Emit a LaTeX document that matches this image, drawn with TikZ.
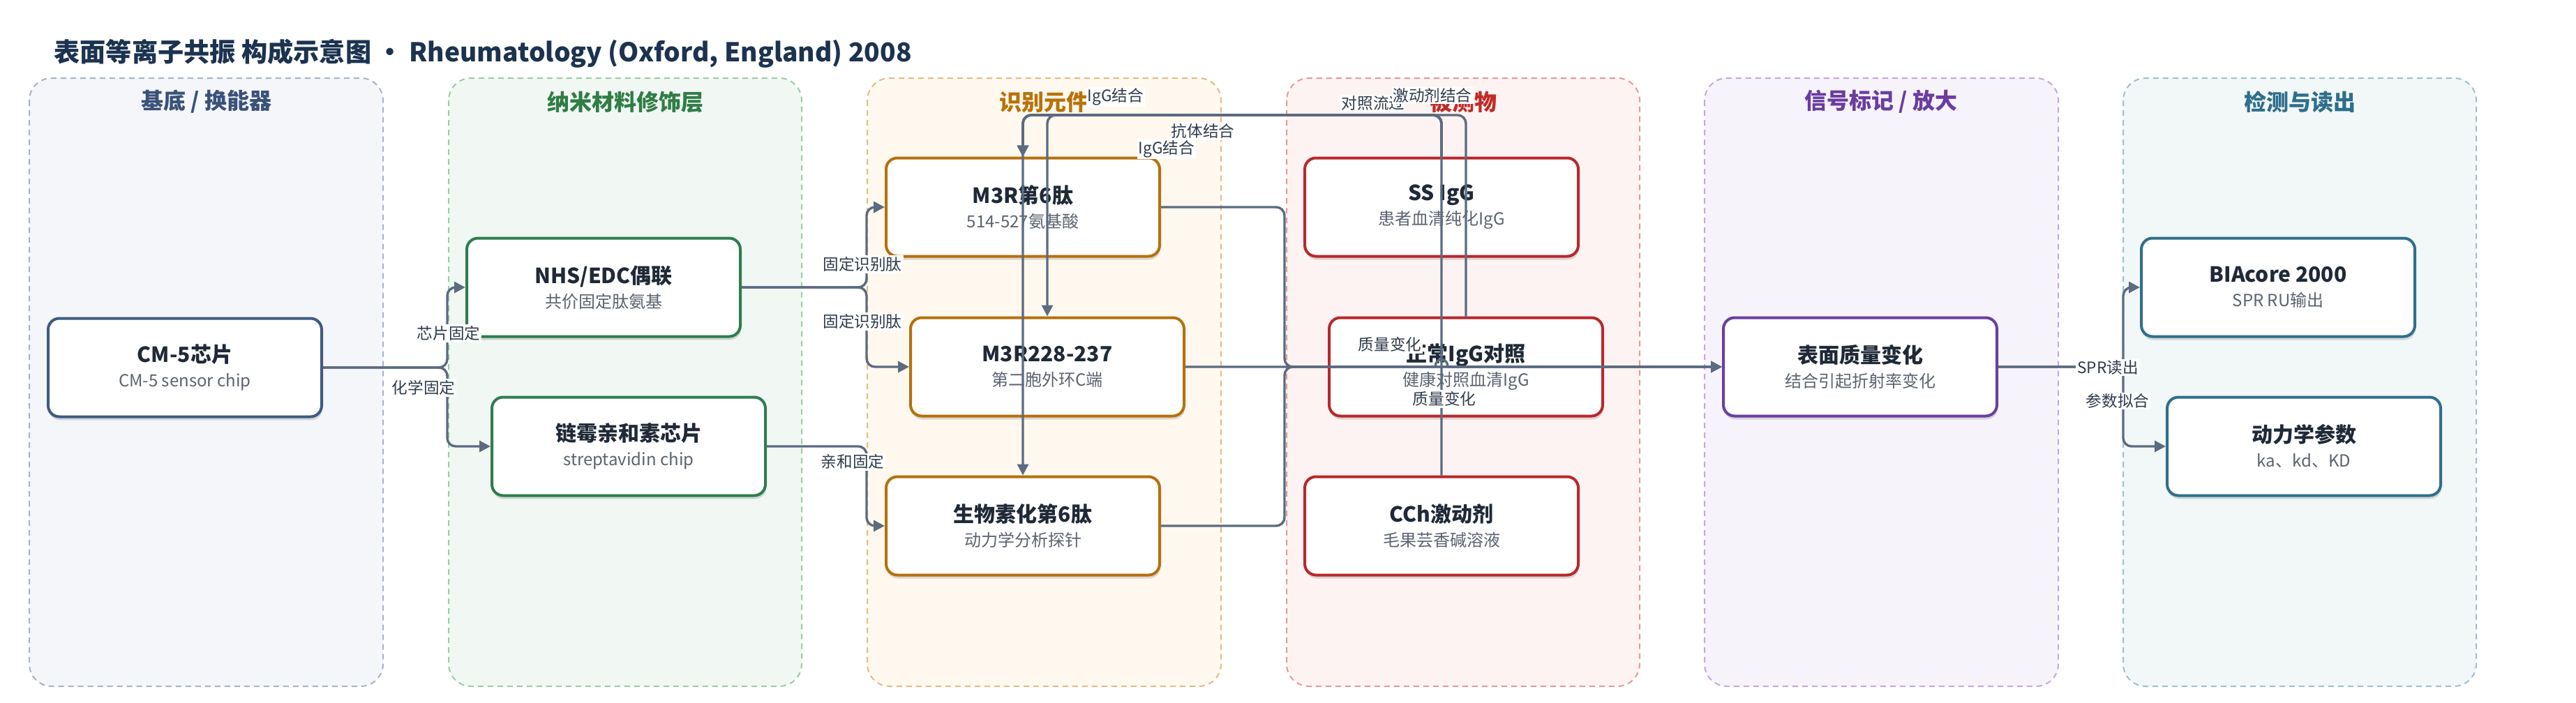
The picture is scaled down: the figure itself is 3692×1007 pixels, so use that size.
\documentclass[tikz,border=0pt]{standalone}
\usepackage{fontspec}
\setmainfont{Noto Sans CJK SC}
\usetikzlibrary{arrows.meta,shadows}
\definecolor{edgec}{HTML}{5B6B80}
\definecolor{titlec}{HTML}{1C3350}
\definecolor{nodet}{HTML}{1F2937}
\definecolor{subc}{HTML}{5B6370}
\definecolor{labc}{HTML}{2F3B4C}
\definecolor{laneAf}{HTML}{F4F6FA}\definecolor{laneAd}{HTML}{A7B3C7}\definecolor{laneAt}{HTML}{3A5279}\definecolor{boxA}{HTML}{3F5B83}
\definecolor{laneBf}{HTML}{F1F8F3}\definecolor{laneBd}{HTML}{9CCBA8}\definecolor{laneBt}{HTML}{2F7D45}\definecolor{boxB}{HTML}{2E7D4E}
\definecolor{laneCf}{HTML}{FFF8EE}\definecolor{laneCd}{HTML}{E4BC82}\definecolor{laneCt}{HTML}{B8720A}\definecolor{boxC}{HTML}{B5700E}
\definecolor{laneDf}{HTML}{FEF3F3}\definecolor{laneDd}{HTML}{E49A9A}\definecolor{laneDt}{HTML}{BF2B26}\definecolor{boxD}{HTML}{B8282A}
\definecolor{laneEf}{HTML}{F7F3FB}\definecolor{laneEd}{HTML}{C3A8DF}\definecolor{laneEt}{HTML}{6A3DA0}\definecolor{boxE}{HTML}{6A3FA0}
\definecolor{laneFf}{HTML}{F2F7F8}\definecolor{laneFd}{HTML}{9EC0CC}\definecolor{laneFt}{HTML}{2D6E8C}\definecolor{boxF}{HTML}{2F6F8C}
\newcommand{\bxt}[2]{{\fontsize{15}{17.5}\selectfont\bfseries\color{nodet}#1}\\{\color{subc}#2}}
\tikzset{
  lanebox/.style={rounded corners=16pt, dashed, dash pattern=on 4pt off 3pt, line width=1pt},
  lanetitle/.style={font=\fontsize{16}{19}\selectfont\bfseries},
  stepbox/.style={rectangle, rounded corners=8pt, line width=2pt, fill=white,
    minimum width=196pt, minimum height=70.5pt, align=center, inner sep=2pt,
    font=\fontsize{12}{17.5}\selectfont,
    drop shadow={shadow xshift=0.5pt, shadow yshift=-2.5pt, fill=black, opacity=0.13}},
  edge/.style={draw=edgec, line width=1.7pt, rounded corners=6pt, -{Triangle[length=8pt,width=8pt]}},
  elabel/.style={fill=white, inner sep=1pt, text=labc, font=\fontsize{11.3}{13}\selectfont}
}
\begin{document}
\begin{tikzpicture}[x=0.5pt,y=-0.5pt]
\useasboundingbox (0,0) rectangle (3692,1007);
\fill[white] (0,0) rectangle (3692,1007);
% title
\node[anchor=west, text=titlec, font=\fontsize{18.6}{22}\selectfont\bfseries, inner sep=0pt] (title) at (77,77) {表面等离子共振 构成示意图 · Rheumatology (Oxford, England) 2008};
% lanes
\draw[lanebox, fill=laneAf, draw=laneAd] (42,112) rectangle (549,984);
\draw[lanebox, fill=laneBf, draw=laneBd] (643,112) rectangle (1149,984);
\draw[lanebox, fill=laneCf, draw=laneCd] (1243,112) rectangle (1750,984);
\draw[lanebox, fill=laneDf, draw=laneDd] (1844,112) rectangle (2350,984);
\draw[lanebox, fill=laneEf, draw=laneEd] (2443,112) rectangle (2950,984);
\draw[lanebox, fill=laneFf, draw=laneFd] (3043,112) rectangle (3549,984);
\node[lanetitle, text=laneAt] (tA) at (296,146) {基底 / 换能器};
\node[lanetitle, text=laneBt] (tB) at (896,146) {纳米材料修饰层};
\node[lanetitle, text=laneCt] (tC) at (1496,146) {识别元件};
\node[lanetitle, text=laneDt] (tD) at (2097,146) {被测物};
\node[lanetitle, text=laneEt] (tE) at (2696,146) {信号标记 / 放大};
\node[lanetitle, text=laneFt] (tF) at (3296,146) {检测与读出};
% boxes
\node[stepbox, draw=boxA] (cm5) at (265,527) {\bxt{CM-5芯片}{CM-5 sensor chip}};
\node[stepbox, draw=boxB] (nhs) at (865,412) {\bxt{NHS/EDC偶联}{共价固定肽氨基}};
\node[stepbox, draw=boxB] (strep) at (901,640) {\bxt{链霉亲和素芯片}{streptavidin chip}};
\node[stepbox, draw=boxC] (m3r6) at (1466,297) {\bxt{M3R第6肽}{514-527氨基酸}};
\node[stepbox, draw=boxC] (m3r228) at (1501,526) {\bxt{M3R228-237}{第二胞外环C端}};
\node[stepbox, draw=boxC] (bio6) at (1466,754) {\bxt{生物素化第6肽}{动力学分析探针}};
\node[stepbox, draw=boxD] (ssigg) at (2066,297) {\bxt{SS IgG}{患者血清纯化IgG}};
\node[stepbox, draw=boxD] (normal) at (2101,526) {\bxt{正常IgG对照}{健康对照血清IgG}};
\node[stepbox, draw=boxD] (cch) at (2066,754) {\bxt{CCh激动剂}{毛果芸香碱溶液}};
\node[stepbox, draw=boxE] (surface) at (2666,526) {\bxt{表面质量变化}{结合引起折射率变化}};
\node[stepbox, draw=boxF] (biacore) at (3265,412) {\bxt{BIAcore 2000}{SPR RU输出}};
\node[stepbox, draw=boxF] (kinetic) at (3302,640) {\bxt{动力学参数}{ka、kd、KD}};
% edges
\draw[edge] (cm5.east) -- (641,527) |- (nhs.west);
\draw[edge] (cm5.east) -- (641,527) |- (strep.west);
\draw[edge] (nhs.east) -- (1242,412) |- (m3r6.west);
\draw[edge] (nhs.east) -- (1242,412) |- (m3r228.west);
\draw[edge] (strep.east) -- (1242,640) |- (bio6.west);
\draw[edge] (m3r6.east) -- (1841,297) |- (surface.west);
\draw[edge] (bio6.east) -- (1841,754) |- (surface.west);
\draw[edge, rounded corners=0pt] (m3r228.east) -- (2057,526) .. controls (2057,512) and (2075,512) .. (2075,526) -- (surface.west);
\draw[edge] (ssigg.north) -- (2066,165) -| (m3r6.north);
\draw[edge] (ssigg.north) -- (2066,165) -| (m3r228.north);
\draw[edge] (ssigg.north) -- (2066,165) -| (bio6.north);
\draw[edge] (normal.north) -- (2101,165) -| (m3r6.north);
\draw[edge] (cch.north) -- (2066,165) -| (m3r6.north);
\draw[edge] (surface.east) -- (3043,526) |- (biacore.west);
\draw[edge] (surface.east) -- (3043,526) |- (kinetic.west);
% edge labels
\node[elabel] (l1) at (643,478) {芯片固定};
\node[elabel] (l2) at (607,556) {化学固定};
\node[elabel] (l3) at (1236,379) {固定识别肽};
\node[elabel] (l4) at (1236,461) {固定识别肽};
\node[elabel] (l5) at (1222,662) {亲和固定};
\node[elabel] (l6) at (1992,494) {质量变化};
\node[elabel] (l7) at (2070,572) {质量变化};
\node[elabel] (l8) at (1599,139) {IgG结合};
\node[elabel] (l9) at (1724,188) {抗体结合};
\node[elabel] (l10) at (1672,214) {IgG结合};
\node[elabel] (l11) at (1968,148) {对照流过};
\node[elabel] (l12) at (2053,137) {激动剂结合};
\node[elabel] (l13) at (3021,527) {SPR读出};
\node[elabel] (l14) at (3035,575) {参数拟合};
\end{tikzpicture}
\end{document}
